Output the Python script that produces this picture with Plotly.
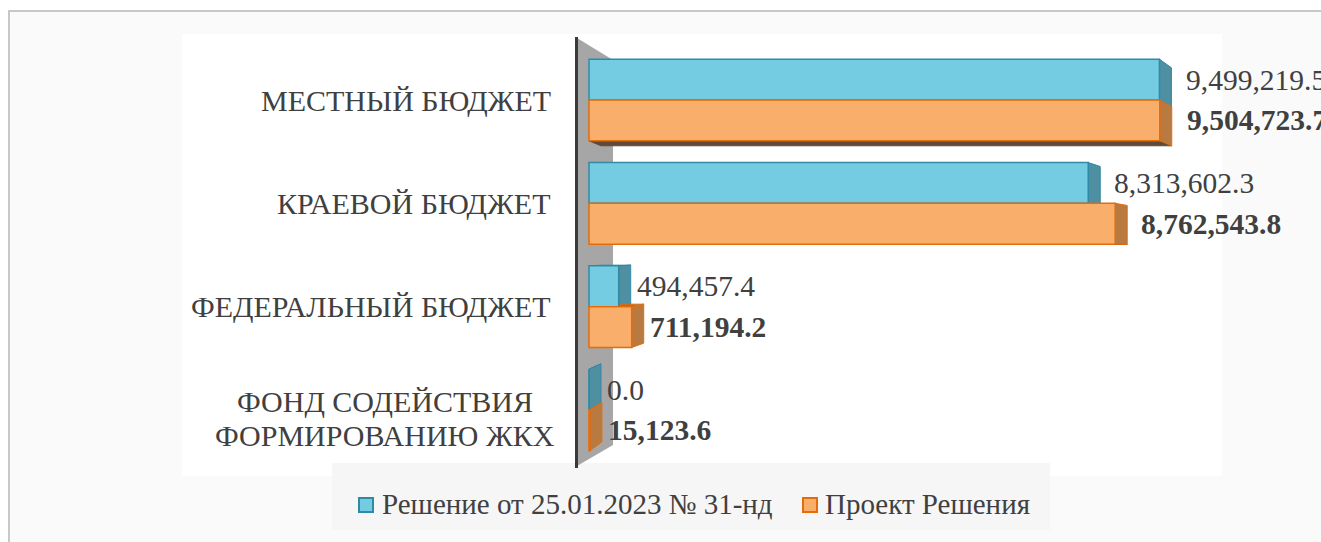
import plotly.graph_objects as go

categories = ["МЕСТНЫЙ БЮДЖЕТ", "КРАЕВОЙ БЮДЖЕТ", "ФЕДЕРАЛЬНЫЙ БЮДЖЕТ", "ФОНД СОДЕЙСТВИЯ<br>ФОРМИРОВАНИЮ ЖКХ"]
series_names = ["Решение от 25.01.2023 № 31-нд", "Проект Решения"]
values_decision = [9499219.5, 8313602.3, 494457.4, 0.0]
values_project = [9504723.7, 8762543.8, 711194.2, 15123.6]

W, H = 1321, 542
PL, PR, PT, PB = 182, 1222, 34, 476          # plot area in pixels
X0PX = 589                                    # pixel of value 0
PPU = 60.05e-6                                # pixels per unit
Y0PX, YSTEP = 100, 103.33                     # pixel of category 0, pixels per category


def px2x(px):
    return (px - X0PX) / PPU


def py2y(py):
    return (py - Y0PX) / YSTEP


def y2py(y):
    return Y0PX + y * YSTEP


def pxp(px):
    return (px - PL) / (PR - PL)


def pyp(py):
    return (PB - py) / (PB - PT)


FONT = "Liberation Serif, Times New Roman, serif"
TXT = "#404040"
fill = ["#74cce3", "#f9ae6b"]
edge = ["#2f8aa6", "#e46c0a"]
side = ["#4e8fa2", "#b97a42"]
bottom = ["#3f6f7d", "#5e4a3c"]
top_ = ["#4a8596", "#a96d3a"]

bargap = 0.21
w = (1 - bargap) / 2
ypos = list(range(len(categories)))

fig = go.Figure()
all_series = [values_decision, values_project]
for t, vals in enumerate(all_series):
    fig.add_trace(go.Bar(
        y=ypos, x=vals, orientation="h", name=series_names[t],
        marker=dict(color=fill[t], line=dict(color=edge[t], width=1.5)),
        hoverinfo="x+name", showlegend=False,
    ))

shapes = []
# outer background + border
shapes.append(dict(type="rect", xref="paper", yref="paper", layer="below",
                   x0=pxp(9), x1=pxp(1340), y0=pyp(570), y1=pyp(11),
                   fillcolor="#fafafa", line=dict(color="#c8c8c8", width=2)))
# white plot panel
shapes.append(dict(type="rect", xref="paper", yref="paper", layer="below",
                   x0=0, x1=1, y0=0, y1=1, fillcolor="white", line=dict(width=0)))
# legend panel
shapes.append(dict(type="rect", xref="paper", yref="paper", layer="below",
                   x0=pxp(332), x1=pxp(1050), y0=pyp(530), y1=pyp(463),
                   fillcolor="#f6f6f6", line=dict(width=0)))

# side wall
wall = [(577, 38), (613, 60), (613, 445), (577, 466)]
path = "M " + " L ".join(f"{px2x(a)},{py2y(b)}" for a, b in wall) + " Z"
shapes.append(dict(type="path", xref="x", yref="y", layer="below", path=path,
                   fillcolor="#a6a6a6", line=dict(width=0)))
shapes.append(dict(type="line", xref="x", yref="y", layer="below",
                   x0=px2x(576.5), x1=px2x(576.5), y0=py2y(37), y1=py2y(468),
                   line=dict(color="#3a3a3a", width=3)))

# 3D depth faces
D = 12          # depth in pixels
K = 0.045       # perspective factor
C = 251         # vertical vanishing line (pixels)
dx_units = D / PPU


def shift_y(y):
    py = y2py(y)
    return py2y(py + (C - py) * K)


def poly(pts):
    return "M " + " L ".join(f"{a},{b}" for a, b in pts) + " Z"


for t, vals in enumerate(all_series):
    for i, v in enumerate(vals):
        yt = i - w + t * w
        yb = yt + w
        yt2, yb2 = shift_y(yt), shift_y(yb)
        if y2py(yb) < C:
            shapes.append(dict(type="path", xref="x", yref="y", layer="below",
                               path=poly([(0, yb), (v, yb), (v + dx_units, yb2), (dx_units, yb2)]),
                               fillcolor=bottom[t], line=dict(color=bottom[t], width=1)))
        if y2py(yt) > C:
            shapes.append(dict(type="path", xref="x", yref="y", layer="below",
                               path=poly([(0, yt), (v, yt), (v + dx_units, yt2), (dx_units, yt2)]),
                               fillcolor=top_[t], line=dict(color=edge[t], width=1)))
        shapes.append(dict(type="path", xref="x", yref="y", layer="below",
                           path=poly([(v, yt), (v + dx_units, yt2), (v + dx_units, yb2), (v, yb)]),
                           fillcolor=side[t], line=dict(color=edge[t], width=1)))

annotations = []
vmax = max(max(values_decision), max(values_project))
for t, vals in enumerate(all_series):
    for i, v in enumerate(vals):
        yc = i - w / 2 + t * w
        txt = f"{v:,.1f}"
        if t == 1:
            txt = f"<b>{txt}</b>"
        annotations.append(dict(x=v, y=yc, xref="x", yref="y", text=txt, showarrow=False,
                                xanchor="left", yanchor="middle", xshift=16 + 9 * v / vmax,
                                font=dict(family=FONT, size=29.5, color=TXT)))

# category labels (multi-line labels: tighter line spacing, block slightly lower)
LINE = 34
for i, c in enumerate(categories):
    lines = c.split("<br>")
    n = len(lines)
    block_shift = 0 if n == 1 else -9
    for j, ln in enumerate(lines):
        off = (j - (n - 1) / 2) * LINE
        ann = dict(x=0, y=i, xref="x", yref="y", text=ln, showarrow=False,
                   xanchor="right", yanchor="middle", xshift=-36,
                   yshift=block_shift - off,
                   font=dict(family=FONT, size=30, color=TXT))
        if n > 1:
            ann.update(x=px2x(385), xanchor="center", xshift=0)
        annotations.append(ann)

# custom legend (square swatch right next to its text)
legend_items = [(358, 380), (802, 823)]
for t, (sx, tx) in enumerate(legend_items):
    shapes.append(dict(type="rect", xref="paper", yref="paper", layer="above",
                       x0=pxp(sx + 1), x1=pxp(sx + 15), y0=pyp(512), y1=pyp(498),
                       fillcolor=fill[t], line=dict(color=edge[t], width=2)))
    annotations.append(dict(x=pxp(tx), y=pyp(504), xref="paper", yref="paper",
                            text=series_names[t], showarrow=False, xanchor="left", yanchor="middle",
                            font=dict(family=FONT, size=29, color=TXT)))

fig.update_layout(
    width=W, height=H, autosize=False,
    margin=dict(l=PL, r=W - PR, t=PT, b=H - PB, pad=0),
    paper_bgcolor="white", plot_bgcolor="rgba(0,0,0,0)",
    barmode="group", bargap=bargap, bargroupgap=0,
    xaxis=dict(range=[px2x(PL), px2x(PR)], visible=False, fixedrange=True),
    yaxis=dict(range=[py2y(PB), py2y(PT)], visible=False, fixedrange=True),
    shapes=shapes, annotations=annotations,
    showlegend=False,
    font=dict(family=FONT, color=TXT),
)

fig.write_html("out.html", config={"displayModeBar": False},
               post_script="document.body.style.margin='0';document.body.style.overflow='hidden';")
